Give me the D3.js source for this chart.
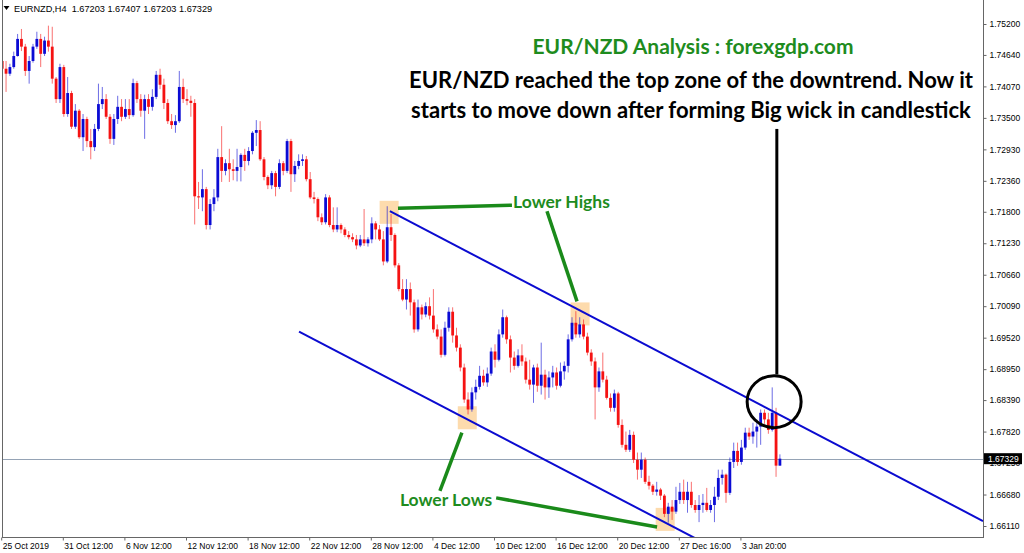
<!DOCTYPE html>
<html><head><meta charset="utf-8">
<script src="https://cdn.jsdelivr.net/npm/d3@7"></script>
<style>
html,body{margin:0;padding:0;background:#fff;}
svg{display:block;}
</style></head><body>
<svg id="chart" width="1024" height="553"></svg>
<script>
// ---------------- DATA ----------------
const symbolInfo = "EURNZD,H4  1.67203 1.67407 1.67203 1.67329";
const firstOpen = 1.7453;
const closes = [
1.7439,1.7430,1.7442,1.7462,1.7493,1.7479,1.7435,1.7453,1.7479,1.7493,
1.7466,1.7490,1.7479,1.7421,1.7384,1.7442,1.7357,1.7395,1.7334,1.7363,
1.7315,1.7348,1.7308,1.7297,1.7330,1.7375,1.7384,1.7352,1.7312,1.7348,
1.7370,1.7352,1.7366,1.7355,1.7413,1.7384,1.7363,1.7384,1.7370,1.7388,
1.7428,1.7410,1.7377,1.7344,1.7337,1.7344,1.7406,1.7384,1.7381,1.7377,
1.7208,1.7206,1.7221,1.7156,1.7194,1.7206,1.7279,1.7254,1.7268,1.7257,
1.7254,1.7261,1.7283,1.7272,1.7290,1.7323,1.7328,1.7275,1.7243,1.7228,
1.7250,1.7225,1.7268,1.7254,1.7308,1.7248,1.7263,1.7272,1.7275,1.7239,
1.7206,1.7203,1.7170,1.7161,1.7206,1.7156,1.7148,1.7156,1.7148,1.7138,
1.7134,1.7130,1.7119,1.7130,1.7123,1.7130,1.7159,1.7148,1.7130,1.7090,
1.7152,1.7138,1.7083,1.7040,1.7021,1.7040,1.7016,1.6967,1.7007,1.6994,
1.7009,1.6992,1.6967,1.6954,1.6921,1.6970,1.6999,1.6956,1.6934,1.6898,
1.6840,1.6822,1.6853,1.6863,1.6883,1.6871,1.6887,1.6927,1.6912,1.6958,
1.6989,1.6949,1.6916,1.6901,1.6920,1.6909,1.6876,1.6867,1.6898,1.6865,
1.6885,1.6862,1.6880,1.6889,1.6865,1.6891,1.6901,1.6949,1.6979,1.6958,
1.6976,1.6954,1.6925,1.6909,1.6862,1.6891,1.6876,1.6843,1.6825,1.6851,
1.6794,1.6758,1.6749,1.6776,1.6731,1.6713,1.6731,1.6691,1.6684,1.6673,
1.6677,1.6666,1.6633,1.6646,1.6637,1.6658,1.6673,1.6658,1.6673,1.6649,
1.6640,1.6649,1.6653,1.6640,1.6649,1.6664,1.6698,1.6704,1.6671,1.6727,
1.6747,1.6727,1.6753,1.6780,1.6773,1.6782,1.6791,1.6816,1.6804,1.6785,
1.6816,1.67203,1.67329
];
const highs = [
1.7490,1.7453,1.7448,1.7470,1.7502,1.7511,1.7484,1.7462,1.7484,1.7506,
1.7502,1.7497,1.7517,1.7515,1.7424,1.7448,1.7446,1.7424,1.7399,1.7375,
1.7366,1.7357,1.7352,1.7330,1.7339,1.7412,1.7406,1.7393,1.7357,1.7357,
1.7390,1.7384,1.7384,1.7384,1.7421,1.7417,1.7393,1.7392,1.7393,1.7402,
1.7435,1.7439,1.7421,1.7384,1.7357,1.7355,1.7435,1.7421,1.7402,1.7390,
1.7384,1.7234,1.7257,1.7225,1.7203,1.7221,1.7294,1.7335,1.7275,1.7294,
1.7275,1.7294,1.7286,1.7294,1.7297,1.7326,1.7346,1.7344,1.7279,1.7246,
1.7254,1.7254,1.7275,1.7272,1.7312,1.7312,1.7272,1.7284,1.7284,1.7281,
1.7252,1.7216,1.7206,1.7177,1.7212,1.7210,1.7188,1.7188,1.7159,1.7152,
1.7145,1.7141,1.7138,1.7138,1.7185,1.7134,1.7170,1.7163,1.7156,1.7145,
1.7190,1.7176,1.7141,1.7087,1.7058,1.7058,1.7052,1.7021,1.7021,1.7012,
1.7016,1.7025,1.7040,1.6976,1.6967,1.6981,1.7007,1.7007,1.6970,1.6940,
1.6905,1.6853,1.6862,1.6876,1.6901,1.6894,1.6898,1.6934,1.6940,1.6967,
1.7003,1.6992,1.6956,1.6927,1.6931,1.6940,1.6916,1.6912,1.6903,1.6905,
1.6943,1.6894,1.6891,1.6901,1.6898,1.6907,1.6909,1.6958,1.6989,1.7000,
1.6989,1.6985,1.6961,1.6931,1.6916,1.6898,1.6925,1.6883,1.6851,1.6858,
1.6854,1.6804,1.6782,1.6785,1.6782,1.6744,1.6744,1.6735,1.6702,1.6687,
1.6691,1.6680,1.6669,1.6653,1.6658,1.6682,1.6689,1.6695,1.6691,1.6691,
1.6658,1.6667,1.6669,1.6680,1.6658,1.6682,1.6713,1.6713,1.6706,1.6735,
1.6762,1.6762,1.6767,1.6789,1.6789,1.6798,1.6804,1.6822,1.6822,1.6816,
1.6862,1.6825,1.67407
];
const lows = [
1.7439,1.7397,1.7426,1.7439,1.7461,1.7471,1.7426,1.7412,1.7450,1.7475,
1.7442,1.7462,1.7470,1.7412,1.7377,1.7377,1.7352,1.7352,1.7330,1.7330,
1.7312,1.7290,1.7297,1.7275,1.7290,1.7326,1.7366,1.7348,1.7303,1.7301,
1.7339,1.7344,1.7348,1.7348,1.7352,1.7377,1.7352,1.7312,1.7357,1.7363,
1.7384,1.7402,1.7366,1.7339,1.7330,1.7323,1.7341,1.7377,1.7373,1.7352,
1.7157,1.7185,1.7181,1.7148,1.7148,1.7181,1.7199,1.7234,1.7246,1.7234,
1.7237,1.7235,1.7235,1.7254,1.7264,1.7284,1.7299,1.7272,1.7237,1.7221,
1.7221,1.7208,1.7221,1.7246,1.7250,1.7216,1.7234,1.7257,1.7263,1.7235,
1.7203,1.7195,1.7163,1.7156,1.7157,1.7152,1.7143,1.7143,1.7141,1.7134,
1.7130,1.7125,1.7112,1.7116,1.7118,1.7117,1.7123,1.7130,1.7127,1.7083,
1.7087,1.7127,1.7079,1.7036,1.7018,1.7003,1.6992,1.6961,1.6963,1.6985,
1.6989,1.6985,1.6961,1.6949,1.6916,1.6918,1.6963,1.6943,1.6927,1.6891,
1.6834,1.6813,1.6818,1.6840,1.6858,1.6865,1.6863,1.6883,1.6898,1.6909,
1.6952,1.6941,1.6889,1.6894,1.6898,1.6901,1.6869,1.6858,1.6834,1.6854,
1.6849,1.6840,1.6843,1.6862,1.6858,1.6862,1.6876,1.6889,1.6945,1.6952,
1.6952,1.6949,1.6920,1.6901,1.6804,1.6854,1.6871,1.6840,1.6818,1.6818,
1.6789,1.6753,1.6745,1.6745,1.6725,1.6695,1.6698,1.6687,1.6677,1.6667,
1.6666,1.6658,1.6627,1.6617,1.6622,1.6633,1.6651,1.6651,1.6635,1.6644,
1.6635,1.6618,1.6635,1.6637,1.6635,1.6618,1.6658,1.6686,1.6653,1.6667,
1.6716,1.6720,1.6722,1.6749,1.6767,1.6760,1.6753,1.6758,1.6796,1.6778,
1.6782,1.6700,1.67203
];
const xTickBars = [0,16,32,48,64,80,96,112,128,144,160,176,192];
const xTickLabels = ["25 Oct 2019","31 Oct 12:00","6 Nov 12:00","12 Nov 12:00","18 Nov 12:00",
  "22 Nov 12:00","28 Nov 12:00","4 Dec 12:00","10 Dec 12:00","16 Dec 12:00",
  "20 Dec 12:00","27 Dec 16:00","3 Jan 20:00"];
const yTickValues = [1.75200,1.74640,1.74070,1.73500,1.72930,1.72360,1.71800,1.71230,1.70660,
  1.70090,1.69520,1.68950,1.68390,1.67820,1.67250,1.66680,1.66110];
const lastPrice = 1.67329;

// annotations in data space: [barIndex, price]
const highlightBoxes = [[100.5,1.7179],[150.1,1.6995],[120.8,1.6807],[172.2,1.6623]];
const channelUpper = [[100.7,1.7181],[254.75,1.6620]];
const channelLower = [[77.1,1.6963],[254.75,1.63171]];
const greenConnectors = [
  [[102.8,1.71865],[132.4,1.71919]],
  [[141.5,1.7181],[149.3,1.70177]],
  [[119.4,1.67799],[113.7,1.66746]],
  [[128.3,1.66619],[170.1,1.66093]]
];
const labelLowerHighs = {text:"Lower Highs", bar:132.7, price:1.7187};
const labelLowerLows = {text:"Lower Lows", bar:103.3, price:1.66474};
const wickCircle = {bar:200.5, price:1.68362};
const pointerLine = [[201.2,1.7330],[201.2,1.68852]];
const titleText = "EUR/NZD Analysis : forexgdp.com";
const noteLines = ["EUR/NZD reached the top zone of the downtrend. Now it",
                   "starts to move down after forming Big wick in candlestick"];

// ---------------- CHART ----------------
const svg = d3.select("#chart");
const plot = {left:2, right:983, top:0, bottom:537};
const x = d3.scaleLinear().domain([0, 254.75]).range([2.2, 983]);
const y = d3.scaleLinear().domain([1.66110, 1.75200]).range([526, 24]);

const bars = closes.map((c,i)=>({i, o: i===0 ? firstOpen : closes[i-1], h: highs[i], l: lows[i], c}));

svg.append("rect").attr("width",1024).attr("height",553).attr("fill","#fff");

svg.append("defs").append("clipPath").attr("id","clip")
  .append("rect").attr("x",plot.left).attr("y",plot.top)
  .attr("width",plot.right-plot.left).attr("height",plot.bottom-plot.top);

const g = svg.append("g").attr("clip-path","url(#clip)");

// highlight boxes
g.selectAll("rect.hl").data(highlightBoxes).join("rect")
  .attr("x",d=>x(d[0])-9.5).attr("y",d=>y(d[1])-11.5)
  .attr("width",19).attr("height",23)
  .attr("fill","#fdd7a4").attr("opacity",0.9);

// current price line
g.append("line").attr("x1",plot.left).attr("x2",plot.right)
  .attr("y1",Math.round(y(lastPrice))+0.5).attr("y2",Math.round(y(lastPrice))+0.5)
  .attr("stroke","#95a3b5").attr("stroke-width",1);

// candles
const blue = "#0b0bd4", red = "#f51212";
const cg = g.append("g");
cg.selectAll("line.wick").data(bars).join("line")
  .attr("x1",d=>x(d.i)).attr("x2",d=>x(d.i))
  .attr("y1",d=>y(d.h)).attr("y2",d=>y(d.l))
  .attr("stroke",d=>d.c>=d.o?blue:red).attr("stroke-opacity",0.6).attr("stroke-width",1);
cg.selectAll("rect.body").data(bars).join("rect")
  .attr("x",d=>x(d.i)-1.4).attr("width",2.8)
  .attr("y",d=>Math.min(y(d.o),y(d.c)))
  .attr("height",d=>Math.max(1,Math.abs(y(d.o)-y(d.c))))
  .attr("fill",d=>d.c>=d.o?blue:red);

// channel lines
const line = d3.line().x(d=>x(d[0])).y(d=>y(d[1]));
[channelUpper, channelLower].forEach(c=>{
  g.append("path").attr("d",line(c)).attr("fill","none")
    .attr("stroke","#0b0bd0").attr("stroke-width",2);
});

// green connectors
greenConnectors.forEach(c=>{
  g.append("path").attr("d",line(c)).attr("fill","none")
    .attr("stroke","#1a8a1a").attr("stroke-width",3.5).attr("stroke-linecap","butt");
});

// circle and pointer
g.append("ellipse").attr("cx",x(wickCircle.bar)).attr("cy",y(wickCircle.price))
  .attr("rx",27).attr("ry",26).attr("fill","none").attr("stroke","#000").attr("stroke-width",3);
g.append("path").attr("d",line(pointerLine)).attr("stroke","#000").attr("stroke-width",3);

// labels
const green = "#1e8c1e";
[labelLowerHighs, labelLowerLows].forEach(l=>{
  svg.append("text").attr("x",x(l.bar)).attr("y",y(l.price))
    .attr("font-family","Lato, 'Open Sans', sans-serif").attr("font-weight","bold")
    .attr("font-size","17.5px").attr("fill",green).text(l.text);
});

svg.append("text").attr("x",693).attr("y",54).attr("text-anchor","middle")
  .attr("font-family","Lato, 'Open Sans', sans-serif").attr("font-weight","bold")
  .attr("font-size","21px").attr("fill",green).text(titleText);
noteLines.forEach((t,k)=>{
  svg.append("text").attr("x",691).attr("y",88+k*30).attr("text-anchor","middle")
    .attr("font-family","Lato, 'Open Sans', sans-serif").attr("font-weight","bold")
    .attr("font-size","22px").attr("fill","#000").text(t);
});

// borders
const bc = "#666";
svg.append("line").attr("x1",plot.left+0.5).attr("x2",plot.left+0.5).attr("y1",0).attr("y2",plot.bottom+0.5).attr("stroke",bc);
svg.append("line").attr("x1",plot.right+0.5).attr("x2",plot.right+0.5).attr("y1",0).attr("y2",plot.bottom+0.5).attr("stroke",bc);
svg.append("line").attr("x1",plot.left).attr("x2",plot.right+1).attr("y1",plot.bottom+0.5).attr("y2",plot.bottom+0.5).attr("stroke",bc);

// y axis
const yAxis = svg.append("g").attr("transform",`translate(${plot.right+0.5},0)`)
  .call(d3.axisRight(y).tickValues(yTickValues).tickSize(3).tickPadding(3).tickFormat(d3.format(".5f")));
yAxis.select(".domain").remove();
yAxis.selectAll("line").attr("stroke",bc);
yAxis.selectAll("text").attr("font-family","'Liberation Sans', Arial, sans-serif").attr("font-size","8.5px").attr("fill","#000");

// x axis
const xAxis = svg.append("g").attr("transform",`translate(-1,${plot.bottom+0.5})`)
  .call(d3.axisBottom(x).tickValues(xTickBars).tickSize(3).tickPadding(2).tickFormat((d,i)=>xTickLabels[i]));
xAxis.select(".domain").remove();
xAxis.selectAll("line").attr("stroke",bc);
xAxis.selectAll("text").attr("text-anchor","start").attr("dx","1")
  .attr("font-family","'Liberation Sans', Arial, sans-serif").attr("font-size","8.5px").attr("fill","#000");

// price label (covers part of the 1.67250 tick label, as in the terminal)
const py = y(lastPrice);
svg.append("rect").attr("x",plot.right+1).attr("y",py-5.5).attr("width",38).attr("height",11).attr("fill","#000");
svg.append("text").attr("x",plot.right+5).attr("y",py+3.3)
  .attr("font-family","'Liberation Sans', Arial, sans-serif").attr("font-size","8.5px").attr("fill","#fff")
  .text(d3.format(".5f")(lastPrice));

// header
svg.append("path").attr("d","M3.5,6 L9.5,6 L6.5,10 Z").attr("fill","#000");
svg.append("text").attr("x",14).attr("y",11.5)
  .attr("font-family","'Liberation Sans', Arial, sans-serif").attr("font-size","9.2px").attr("fill","#000")
  .attr("xml:space","preserve").style("white-space","pre").text(symbolInfo);
</script>
</body></html>
